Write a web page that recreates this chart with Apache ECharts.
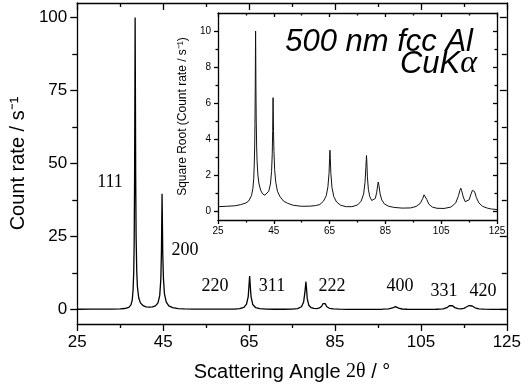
<!DOCTYPE html>
<html>
<head>
<meta charset="utf-8">
<script src="https://cdn.jsdelivr.net/npm/echarts@6/dist/echarts.min.js"></script>
<style>
html,body{margin:0;padding:0;background:#fff;}
#chart{width:524px;height:390px;}
</style>
</head>
<body>
<div id="chart"></div>
<script>
// Scattering angle 2theta (degrees)
const angles = [
  25, 28, 31, 33, 35, 36, 37, 37.5, 37.8, 38.0, 38.15, 38.25, 38.35, 38.42, 38.47, 38.52, 38.6, 38.7, 38.85, 39.0,
  39.3, 39.7, 40.3, 41.0, 41.8, 42.5, 43.2, 43.8, 44.2, 44.45, 44.6, 44.7, 44.74, 44.8, 44.9, 45.05, 45.3, 45.7,
  46.3, 47.2, 48.5, 50, 52, 55, 58, 60, 61.5, 62.8, 63.8, 64.4, 64.8, 65.0, 65.13, 65.25, 65.45, 65.85, 66.5, 67.5,
  69, 71, 73, 75, 76.3, 77.2, 77.7, 78.0, 78.15, 78.23, 78.35, 78.55, 78.9, 79.4, 80.1, 80.8, 81.4, 81.9, 82.2,
  82.44, 82.7, 83.1, 83.7, 84.6, 86, 88, 91, 94, 96, 97.5, 98.4, 98.85, 99.08, 99.35, 99.8, 100.6, 101.8, 103.5,
  106, 108.5, 110.2, 111.2, 111.7, 112.04, 112.35, 112.9, 113.6, 114.3, 115.0, 115.7, 116.2, 116.57, 116.95,
  117.6, 118.5, 119.8, 121.5, 123, 125
];
// Count rate (1/s)
const counts = [
  0.058, 0.068, 0.084, 0.12, 0.2, 0.31, 0.72, 1.56, 3.2, 6.8, 13, 23, 46, 76, 100, 81, 46, 25, 13, 7.8,
  4.0, 2.25, 1.32, 0.9, 0.77, 0.85, 1.21, 2.25, 4.8, 10.2, 20, 34, 39.6, 32.5, 19.4, 10.9, 5.3, 2.56,
  1.21, 0.64, 0.3, 0.18, 0.1, 0.068, 0.073, 0.09, 0.13, 0.3, 0.72, 1.82, 4.4, 8.6, 11.4, 8.6, 4.4, 1.69, 0.64, 0.25,
  0.1, 0.058, 0.058, 0.11, 0.3, 0.9, 2.56, 5.9, 8.3, 9.5, 7.4, 3.6, 1.44, 0.64, 0.34, 0.3, 0.49, 1.1, 1.96,
  2.6, 1.96, 0.9, 0.38, 0.16, 0.073, 0.04, 0.026, 0.029, 0.063, 0.18, 0.49, 0.81, 0.95, 0.77, 0.42, 0.14, 0.048, 0.023,
  0.02, 0.048, 0.2, 0.72, 1.32, 1.6, 1.25, 0.61, 0.27, 0.2, 0.38, 0.9, 1.32, 1.48, 1.17,
  0.56, 0.2, 0.068, 0.026, 0.012, 0.0064
];
// Tick labels
const xMajor = [25, 45, 65, 85, 105, 125];
const xMinor = [35, 55, 75, 95, 115];
const yMajor = [0, 25, 50, 75, 100];
const yMinor = [12.5, 37.5, 62.5, 87.5];
const insetYMajor = [0, 2, 4, 6, 8, 10];
const insetYMinor = [1, 3, 5, 7, 9];
// Peak (hkl) labels
const peakLabels = ['111', '200', '220', '311', '222', '400', '331', '420'];

const mainData = angles.map((a, i) => [a, counts[i]]);
const insetData = angles.map((a, i) => [a, Math.sqrt(counts[i])]);

const BLACK = '#000';
const sans = '"Liberation Sans", Arial, sans-serif';
const serif = '"Liberation Serif", "Times New Roman", serif';

function axis(dim, grid, pos, min, max, ticks, len, inside, opts) {
  const a = {
    type: 'value', gridIndex: grid, position: pos, min: min, max: max,
    axisLine: {show: !!(opts && opts.line), onZero: false, lineStyle: {color: BLACK, width: 1.3}},
    axisTick: {show: true, inside: inside, length: len, customValues: ticks, lineStyle: {color: BLACK, width: 1.3}},
    axisLabel: {show: false},
    splitLine: {show: false},
    minorTick: {show: false}
  };
  if (opts && opts.labels) {
    a.axisLabel = Object.assign({show: true, customValues: ticks, color: BLACK, fontFamily: sans}, opts.labels);
  }
  if (opts && opts.name) {
    a.name = opts.name;
    a.nameLocation = 'middle';
    a.nameGap = opts.nameGap;
    a.nameTextStyle = opts.nameTextStyle;
  }
  return a;
}

const insetXMajor = xMajor, insetXMinor = xMinor;

const xAxes = [
  axis('x', 0, 'bottom', 25, 125, xMajor, 7, false, {line: true,
    labels: {fontSize: 17, margin: 10},
    name: 'Scattering Angle {s|2θ} / °', nameGap: 38,
    nameTextStyle: {fontSize: 20, color: BLACK, fontFamily: sans, rich: {s: {fontFamily: serif, fontSize: 20, color: BLACK}}}}),
  axis('x', 0, 'bottom', 25, 125, xMinor, 4, false, {}),
  axis('x', 0, 'top', 25, 125, xMajor, 7, true, {line: true}),
  axis('x', 0, 'top', 25, 125, xMinor, 4, true, {}),
  axis('x', 1, 'bottom', 25, 125, insetXMajor, 4, false, {line: true, labels: {fontSize: 10, margin: 6}}),
  axis('x', 1, 'bottom', 25, 125, insetXMinor, 2.5, false, {}),
  axis('x', 1, 'top', 25, 125, insetXMajor, 4, true, {line: true}),
  axis('x', 1, 'top', 25, 125, insetXMinor, 2.5, true, {})
];
const yAxes = [
  axis('y', 0, 'left', -5, 105, yMajor, 7, false, {line: true,
    labels: {fontSize: 17, margin: 10},
    name: 'Count rate / s⁻¹', nameGap: 40,
    nameTextStyle: {fontSize: 20, color: BLACK, fontFamily: sans}}),
  axis('y', 0, 'left', -5, 105, yMinor, 5, false, {}),
  axis('y', 0, 'right', -5, 105, yMajor, 7, true, {line: true}),
  axis('y', 0, 'right', -5, 105, yMinor, 5, true, {}),
  axis('y', 1, 'left', -0.5, 11, insetYMajor, 4, false, {line: true,
    labels: {fontSize: 10, margin: 7},
    name: 'Square Root (Count rate / s⁻¹)', nameGap: 19,
    nameTextStyle: {fontSize: 12, color: BLACK, fontFamily: sans}}),
  axis('y', 1, 'left', -0.5, 11, insetYMinor, 2.5, false, {}),
  axis('y', 1, 'right', -0.5, 11, insetYMajor, 4, true, {line: true}),
  axis('y', 1, 'right', -0.5, 11, insetYMinor, 2.5, true, {})
];

// annotation pixel positions (layout only)
const labelPos = [[110, 182], [185, 250], [215, 286], [272, 286], [332, 286], [400, 286], [444, 291], [483, 291]];
const graphics = peakLabels.map((t, i) => ({
  type: 'text', x: labelPos[i][0], y: labelPos[i][1], z: 10,
  style: {text: t, fill: BLACK, font: '18px ' + serif, textAlign: 'center', textVerticalAlign: 'middle'}
}));
graphics.push({
  type: 'text', x: 473, y: 42, z: 10,
  style: {text: '500 nm fcc Al', fill: BLACK, font: 'italic 31px ' + sans, textAlign: 'right', textVerticalAlign: 'middle'}
});
graphics.push({
  type: 'text', x: 477, y: 64, z: 10,
  style: {
    text: '{a|CuK}{b|α}', textAlign: 'right', textVerticalAlign: 'middle',
    rich: {
      a: {fill: BLACK, font: 'italic 31px ' + sans},
      b: {fill: BLACK, font: 'italic 32px ' + serif}
    }
  }
});

const chart = echarts.init(document.getElementById('chart'), null, {renderer: 'canvas'});
chart.setOption({
  animation: false,
  backgroundColor: '#fff',
  grid: [
    {left: 74, top: 3, right: 14, bottom: 66, containLabel: false},
    {left: 218, top: 13, right: 27, bottom: 170, containLabel: false, show: true, backgroundColor: '#fff', borderWidth: 0}
  ],
  xAxis: xAxes,
  yAxis: yAxes,
  series: [
    {type: 'line', xAxisIndex: 0, yAxisIndex: 0, data: mainData, showSymbol: false, symbol: 'none',
     lineStyle: {color: BLACK, width: 1.3}},
    {type: 'line', xAxisIndex: 4, yAxisIndex: 4, data: insetData, showSymbol: false, symbol: 'none',
     lineStyle: {color: '#111', width: 1}}
  ],
  graphic: graphics
});
</script>
</body>
</html>
